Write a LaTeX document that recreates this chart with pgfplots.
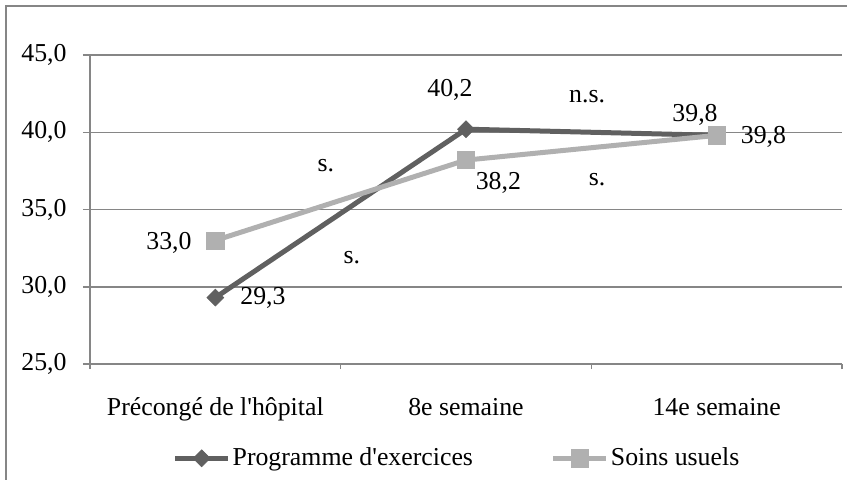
\documentclass[border=0pt]{standalone}
\usepackage{pgfplots}
\pgfplotsset{compat=1.18}
\usepackage{fontspec}
\setmainfont{Liberation Serif}
\definecolor{prog}{RGB}{96,96,96}
\definecolor{soin}{RGB}{176,176,176}
\definecolor{gridc}{RGB}{134,134,134}
\begin{document}
\begin{tikzpicture}
\fontsize{12.9}{15}\selectfont
\useasboundingbox (0,0) rectangle (423.5pt,-239.5pt);
\draw[gridc, line width=0.75pt] (3pt,-3pt) rectangle (440pt,-250pt);
\begin{axis}[
  at={(45pt,-182pt)}, anchor=south west,
  scale only axis, width=376pt, height=154.5pt,
  clip=false,
  xmin=0.5, xmax=3.5, ymin=25, ymax=45,
  axis x line*=bottom, axis y line*=left,
  axis line style={gridc, line width=0.75pt, -},
  xtick={1,2,3},
  xticklabels={Précongé de l\textquotesingle hôpital, 8e semaine, 14e semaine},
  x tick style={draw=none},
  extra x ticks={0.5,1.5,2.5,3.5}, extra x tick labels={},
  extra x tick style={x tick style={draw=gridc, line width=0.75pt}, major tick length=2.5pt},
  ytick={25,30,35,40,45},
  ymajorgrids,
  major grid style={gridc, line width=0.75pt},
  y tick style={gridc, line width=0.75pt},
  tick align=outside, major tick length=3.5pt,
  yticklabel style={anchor=east, inner sep=0pt, xshift=-8pt},
  xticklabel style={anchor=base, inner sep=0pt, yshift=-22pt},
  /pgf/number format/fixed, /pgf/number format/fixed zerofill,
  /pgf/number format/precision=1, /pgf/number format/use comma,
  /pgf/number format/assume math mode=true,
  legend columns=2,
  legend style={draw=none, fill=none, at={(0.488,-0.305)}, anchor=center,
    nodes={inner sep=1pt}, /tikz/every even column/.append style={column sep=38pt}},
  legend image code/.code={\draw[mark repeat=2,mark phase=2,#1] plot coordinates {(0pt,0pt) (13.25pt,0pt) (26.5pt,0pt)};},
]
\addplot[prog, line width=2.5pt, mark=square*, mark size=3pt, mark options={rotate=45, solid, line width=0.3pt}]
  coordinates {(1,29.3) (2,40.2) (3,39.8)};
\addlegendentry{Programme d\textquotesingle exercices}
\addplot[soin, line width=2.5pt, mark=square*, mark size=4.3pt, mark options={solid, line width=0.3pt}]
  coordinates {(1,33.0) (2,38.2) (3,39.8)};
\addlegendentry{Soins usuels}
% data labels
\node at (axis cs:1,33.0) [xshift=-23.2pt, yshift=-1.3pt] {33,0};
\node at (axis cs:1,29.3) [xshift=23.8pt, yshift=-0.2pt] {29,3};
\node at (axis cs:2,40.2) [xshift=-8pt, yshift=19.4pt] {40,2};
\node at (axis cs:2,38.2) [xshift=16.2pt, yshift=-11.5pt] {38,2};
\node at (axis cs:3,39.8) [xshift=-10.8pt, yshift=10.1pt] {39,8};
\node at (axis cs:3,39.8) [xshift=23.4pt, yshift=-0.8pt] {39,8};
% significance notes
\node at (axis cs:1.441,37.82) {s.};
\node at (axis cs:1.545,31.86) {s.};
\node at (axis cs:2.483,42.28) {n.s.};
\node at (axis cs:2.523,36.91) {s.};
\end{axis}
\end{tikzpicture}
\end{document}
